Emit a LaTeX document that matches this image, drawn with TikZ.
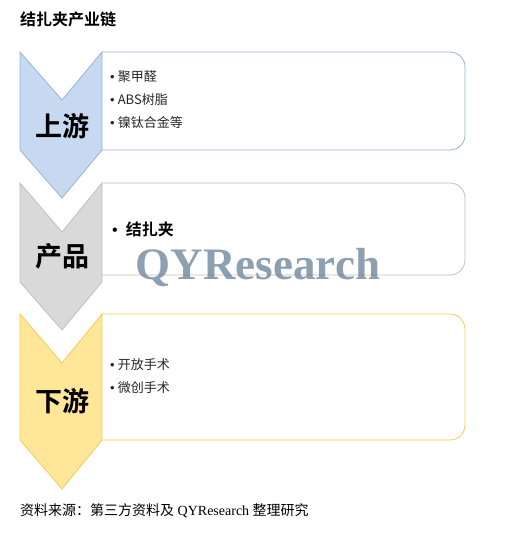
\documentclass[tikz,border=0pt]{standalone}
\usepackage{fontspec}
\setmainfont{Liberation Serif}
\newfontfamily\cjk{Noto Sans CJK SC}
\newfontfamily\cjkbold{Noto Sans CJK SC Bold}
\newfontfamily\dotfont{Liberation Sans}
\usepackage{tikz}
\usetikzlibrary{calc}
\usepackage{xcolor}

\definecolor{upfill}{HTML}{C6D9F0}
\definecolor{upline}{HTML}{95B3D7}
\definecolor{midfill}{HTML}{D9D9D9}
\definecolor{midline}{HTML}{BFBFBF}
\definecolor{downfill}{HTML}{FFE699}
\definecolor{downline}{HTML}{F7CB4D}
\definecolor{markgray}{HTML}{5D7892}

\newcommand{\itemdot}{{\dotfont •}\hspace{3pt}}

\tikzset{
	chevron/.style={line width=0.8pt, line join=miter},
	infobox/.style={line width=0.8pt, rounded corners=15pt},
	stage/.style={font=\cjkbold\fontsize{27}{30}\selectfont, inner sep=0pt},
	item/.style={font=\cjk\fontsize{13}{15}\selectfont, anchor=west, inner sep=0pt, text=black!85}
}

\begin{document}
\begin{tikzpicture}[x=1pt, y=-1pt]
	\useasboundingbox (0,0) rectangle (516,543);
	\node [anchor=west, inner sep=0pt, font=\cjkbold\fontsize{16}{18}\selectfont] (title) at (20,19) {结扎夹产业链};
	% upstream
	\draw [infobox, upline] (102,52) -- (465,52) -- (465,150) -- (102,150);
	\draw [chevron, upline, fill=upfill] (20,52) -- (62,100) -- (102,52) -- (102,150) -- (62,198) -- (20,150) -- cycle;
	\node [stage] (up) at (62,126) {上游};
	\node [item] (up1) at (110,77) {\itemdot 聚甲醛};
	\node [item] (up2) at (110,100) {\itemdot ABS树脂};
	\node [item] (up3) at (110,123) {\itemdot 镍钛合金等};
	% product
	\draw [infobox, midline] (102,183) -- (465,183) -- (465,275) -- (102,275);
	\draw [chevron, midline, fill=midfill] (20,183) -- (62,232) -- (102,183) -- (102,282) -- (62,330) -- (20,282) -- cycle;
	\node [stage] (mid) at (62,256) {产品};
	\node [item, font=\cjkbold\fontsize{16}{18}\selectfont, text=black] (mid1) at (112,229) {{\dotfont •}\hspace{8pt}结扎夹};
	% downstream
	\draw [infobox, downline] (102,314) -- (465,314) -- (465,440) -- (102,440);
	\draw [chevron, downline, fill=downfill] (20,314) -- (62,363) -- (102,314) -- (102,440) -- (62,489) -- (20,440) -- cycle;
	\node [stage] (down) at (62,401) {下游};
	\node [item] (down1) at (110,365) {\itemdot 开放手术};
	\node [item] (down2) at (110,388) {\itemdot 微创手术};
	% watermark
	\node [inner sep=0pt, text=markgray, opacity=0.7, font=\bfseries\fontsize{45}{45}\selectfont] (mark) at (258,268) {QYResearch};
	\node [anchor=west, inner sep=0pt, font=\fontsize{14}{16}\selectfont] (source) at (20,511) {{\cjk 资料来源：第三方资料及} QYResearch {\cjk 整理研究}};
\end{tikzpicture}
\end{document}
